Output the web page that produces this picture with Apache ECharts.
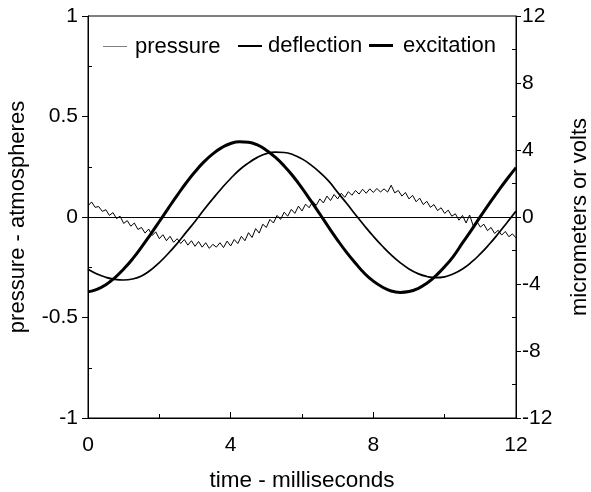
<!DOCTYPE html>
<html>
<head>
<meta charset="utf-8">
<script src="https://cdn.jsdelivr.net/npm/echarts@6/dist/echarts.min.js"></script>
<style>
html,body{margin:0;padding:0;background:#fff;}
#chart{width:591px;height:492px;}
</style>
</head>
<body>
<div id="chart"></div>
<script>
// ---- data ----
var seriesNames = ['pressure', 'deflection', 'excitation'];
var xTicks = [0, 4, 8, 12];
var leftTicks = [-1, -0.5, 0, 0.5, 1];
var rightTicks = [-12, -8, -4, 0, 4, 8, 12];

// pressure (atmospheres), sampled every 0.1 ms from 0 to 12 ms
var pressureStep = 0.1;
var pressure = [
  0.055, 0.075, 0.048, 0.052, 0.028, 0.036, 0.008, 0.022, -0.008, 0.004,
  -0.032, -0.018, -0.046, -0.030, -0.062, -0.052, -0.080, -0.060, -0.092, -0.074,
  -0.108, -0.088, -0.118, -0.096, -0.126, -0.108, -0.132, -0.112, -0.140, -0.118,
  -0.146, -0.122, -0.150, -0.128, -0.156, -0.136, -0.150, -0.128, -0.152, -0.120,
  -0.144, -0.112, -0.132, -0.096, -0.118, -0.078, -0.102, -0.058, -0.080, -0.036,
  -0.052, -0.012, -0.030, 0.008, -0.012, 0.024, 0.004, 0.038, 0.018, 0.054,
  0.030, 0.064, 0.046, 0.078, 0.058, 0.090, 0.070, 0.104, 0.082, 0.112,
  0.090, 0.118, 0.098, 0.126, 0.108, 0.132, 0.114, 0.138, 0.118, 0.140,
  0.122, 0.142, 0.124, 0.140, 0.124, 0.158, 0.120, 0.132, 0.104, 0.122,
  0.090, 0.108, 0.076, 0.094, 0.062, 0.078, 0.048, 0.062, 0.032, 0.046,
  0.018, 0.034, 0.004, 0.016, -0.016, 0.008, -0.030, 0.010, -0.044, -0.022,
  -0.050, -0.036, -0.068, -0.052, -0.082, -0.066, -0.090, -0.072, -0.098, -0.084,
  -0.104
];

// deflection & excitation (micrometers or volts), sampled every 0.25 ms
var waveStep = 0.25;
var deflection = [
  -3.12, -3.40, -3.60, -3.72, -3.76, -3.70, -3.52, -3.18, -2.72, -2.18,
  -1.58, -0.92, -0.27, 0.43, 1.09, 1.72, 2.30, 2.82, 3.23, 3.56,
  3.78, 3.87, 3.85, 3.72, 3.47, 3.11, 2.67, 2.14, 1.47, 0.82,
  0.14, -0.52, -1.15, -1.73, -2.26, -2.72, -3.10, -3.38, -3.55, -3.62,
  -3.57, -3.39, -3.10, -2.70, -2.20, -1.63, -1.00, -0.33, 0.35
];
var excitation = [
  -4.47, -4.32, -4.04, -3.63, -3.11, -2.50, -1.80, -1.05, -0.27, 0.52,
  1.29, 2.03, 2.70, 3.29, 3.77, 4.14, 4.39, 4.49, 4.46, 4.30,
  3.99, 3.57, 3.05, 2.43, 1.72, 0.96, 0.18, -0.62, -1.39, -2.11,
  -2.76, -3.36, -3.83, -4.18, -4.42, -4.50, -4.45, -4.27, -3.95, -3.51,
  -2.97, -2.33, -1.55, -0.78, 0.02, 0.80, 1.55, 2.27, 2.95
];

function pairs(values, step) {
  return values.map(function (v, i) { return [+(i * step).toFixed(3), v]; });
}

var FONT = '"Liberation Sans", Arial, sans-serif';
var chart = echarts.init(document.getElementById('chart'), null, {renderer: 'canvas'});

var labelStyle = {color: '#000', fontSize: 21, fontFamily: FONT};
var lineBlack = {lineStyle: {color: '#000', width: 1}};

function legendBlock(name, left, iconH, pad, color) {
  return {
    data: [{name: name, icon: 'rect', itemStyle: {color: color, borderWidth: 0}}],
    left: left, top: 36 - iconH / 2, padding: 0,
    itemWidth: 24, itemHeight: iconH,
    textStyle: {color: '#000', fontSize: 22, fontFamily: FONT, padding: [0, 0, 0, pad]},
    selectedMode: false
  };
}

chart.setOption({
  animation: false,
  backgroundColor: '#fff',
  grid: {left: 88, right: 75, top: 16, bottom: 74, outerBoundsMode: 'none', containLabel: false,
         show: true, borderColor: '#000', borderWidth: 1, backgroundColor: 'transparent'},
  legend: [
    legendBlock(seriesNames[0], 103, 1, 3, '#808080'),
    legendBlock(seriesNames[1], 238, 2, 1, '#000'),
    legendBlock(seriesNames[2], 369, 3, 5, '#000')
  ],
  xAxis: [{
    type: 'value', min: xTicks[0], max: xTicks[xTicks.length - 1], interval: 4,
    axisLine: {onZero: false, lineStyle: {color: '#000', width: 1}},
    axisTick: {show: true, inside: true, length: 6, lineStyle: {color: '#000'}},
    minorTick: {show: true, splitNumber: 2, length: 4, lineStyle: {color: '#000'}},
    axisLabel: Object.assign({margin: 17}, labelStyle),
    splitLine: {show: false},
    name: 'time - milliseconds', nameLocation: 'middle', nameGap: 51,
    nameTextStyle: {color: '#000', fontSize: 22.5, fontFamily: FONT}
  }],
  yAxis: [{
    type: 'value', position: 'left', min: leftTicks[0], max: leftTicks[leftTicks.length - 1], interval: 0.5,
    axisLine: Object.assign({show: true, onZero: false}, lineBlack),
    axisTick: {show: true, inside: false, length: 6, lineStyle: {color: '#000'}},
    axisLabel: Object.assign({margin: 10}, labelStyle),
    splitLine: {show: false},
    name: 'pressure - atmospheres', nameLocation: 'middle', nameGap: 59, nameRotate: 90,
    nameTextStyle: {color: '#000', fontSize: 22, fontFamily: FONT}
  }, {
    type: 'value', position: 'right', min: rightTicks[0], max: rightTicks[rightTicks.length - 1], interval: 4,
    axisLine: Object.assign({show: true, onZero: false}, lineBlack),
    axisTick: {show: true, inside: false, length: 5, lineStyle: {color: '#000'}},
    axisLabel: Object.assign({margin: 6}, labelStyle),
    splitLine: {show: false},
    name: 'micrometers or volts', nameLocation: 'middle', nameGap: 53, nameRotate: 90,
    nameTextStyle: {color: '#000', fontSize: 22, fontFamily: FONT}
  }, {
    type: 'value', position: 'left', min: -1, max: 1, interval: 0.5,
    axisLine: {show: false, onZero: false},
    axisTick: {show: false, inside: true},
    minorTick: {show: true, splitNumber: 2, length: 4, lineStyle: {color: '#000'}},
    axisLabel: {show: false}, splitLine: {show: false}
  }, {
    type: 'value', position: 'right', min: -12, max: 12, interval: 4,
    axisLine: {show: false, onZero: false},
    axisTick: {show: false, inside: true},
    minorTick: {show: true, splitNumber: 2, length: 4, lineStyle: {color: '#000'}},
    axisLabel: {show: false}, splitLine: {show: false}
  }],
  series: [{
    name: seriesNames[0], type: 'line', yAxisIndex: 0, symbol: 'none',
    data: pairs(pressure, pressureStep),
    lineStyle: {color: '#000', width: 1}, itemStyle: {color: '#000'},
    markLine: {
      silent: true, symbol: 'none', label: {show: false},
      lineStyle: {color: '#000', width: 1, type: 'solid'},
      data: [{yAxis: 0}]
    }
  }, {
    name: seriesNames[1], type: 'line', yAxisIndex: 1, symbol: 'none', smooth: true,
    data: pairs(deflection, waveStep),
    lineStyle: {color: '#000', width: 1.7}, itemStyle: {color: '#000'}
  }, {
    name: seriesNames[2], type: 'line', yAxisIndex: 1, symbol: 'none', smooth: true,
    data: pairs(excitation, waveStep),
    lineStyle: {color: '#000', width: 3}, itemStyle: {color: '#000'}
  }]
});
</script>
</body>
</html>
